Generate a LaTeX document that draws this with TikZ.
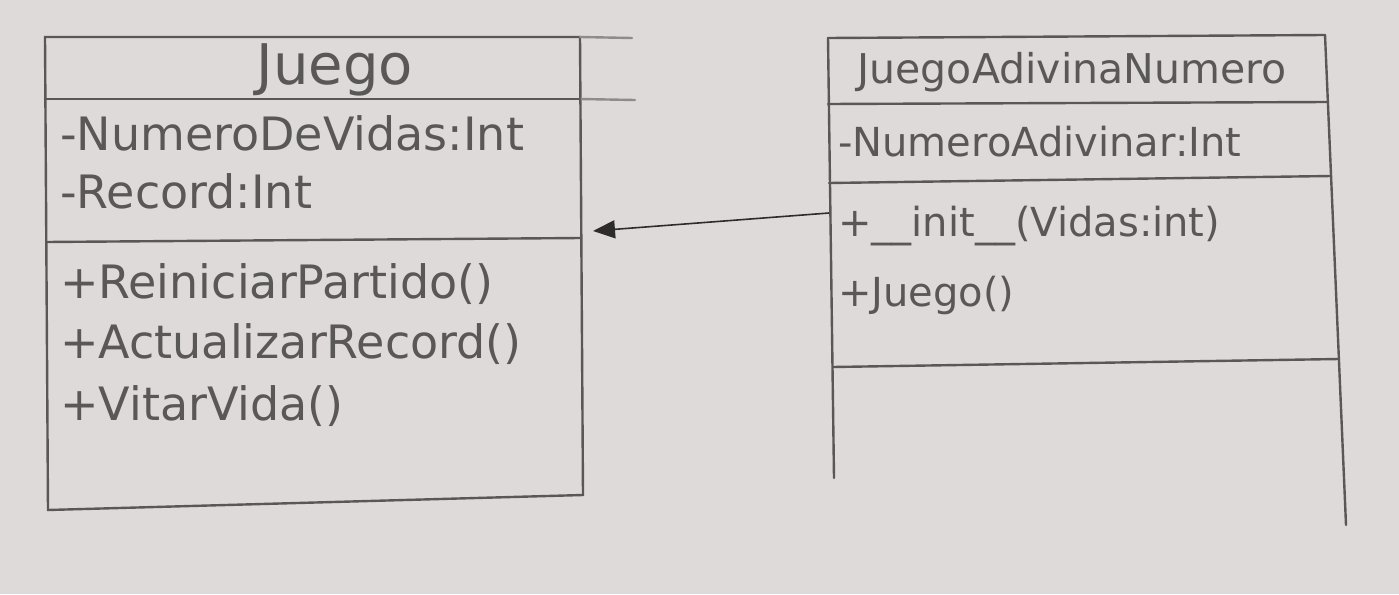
\documentclass[tikz,border=0pt]{standalone}
\usepackage{fontspec}
\setmainfont{DejaVu Sans}
\usetikzlibrary{arrows.meta}
\begin{document}
\begin{tikzpicture}[x=1pt, y=-1pt,
  lapiz/.style={draw=pencil, line width=2.4pt, line cap=round},
  titulo/.style={inner sep=0pt, text=pencil, font=\fontsize{#1}{#1}\selectfont},
  miembro/.style={anchor=base west, inner sep=0pt, text=pencil, font=\fontsize{#1}{#1}\selectfont}]
\definecolor{paper}{HTML}{DEDAD9}
\definecolor{pencil}{HTML}{5A5757}
\definecolor{ink}{HTML}{2E2B2B}
\fill[paper] (0,0) rectangle (1399,594);
\useasboundingbox (0,0) rectangle (1399,594);
% clase Juego
\draw[lapiz] (45,37) -- (580,37) -- (583,495) -- (48,510) -- cycle;
\draw[lapiz, draw=pencil!60!paper] (580,37) -- (632,38) (580,99) -- (635,100);
\draw[lapiz] (45,99) -- (580,99);
\draw[lapiz] (46,242) -- (581,238);
\node[titulo=56] (juego) at (335,70) {Juego};
\node[miembro=46] (vidas) at (60,150) {-NumeroDeVidas:Int};
\node[miembro=46] (record) at (60,208) {-Record:Int};
\node[miembro=46] (reiniciar) at (60,298) {+ReiniciarPartido()};
\node[miembro=46] (actualizar) at (60,358) {+ActualizarRecord()};
\node[miembro=46] (vitar) at (60,420) {+VitarVida()};
% clase JuegoAdivinaNumero
\draw[lapiz] (828,38) -- (1325,35);
\draw[lapiz] (828,38) -- (834,478);
\draw[lapiz] (1325,35) -- (1346,525);
\draw[lapiz] (828,104) -- (1328,102);
\draw[lapiz] (829,183) -- (1331,176);
\draw[lapiz] (833,367) -- (1339,359);
\node[titulo=41] (adivina) at (1072,72) {JuegoAdivinaNumero};
\node[miembro=40] (numero) at (838,156) {-NumeroAdivinar:Int};
\node[miembro=40] (init) at (838,236) {+\_\_init\_\_(Vidas:int)};
\node[miembro=40] (juegometodo) at (838,306) {+Juego()};
% herencia
\coordinate (desde) at (829,213);
\coordinate (hacia) at (593,231);
\draw[ink, line width=1.6pt, -{Triangle[length=22pt, width=18pt]}] (desde) -- (hacia);
\end{tikzpicture}
\end{document}
